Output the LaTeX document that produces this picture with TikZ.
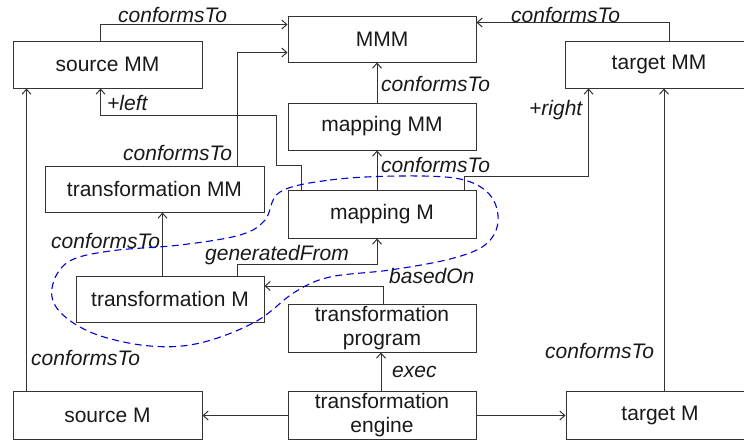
\documentclass[tikz,border=0pt]{standalone}
\usepackage{fontspec}
\setmainfont{Liberation Sans}
\usetikzlibrary{arrows.meta}
\begin{document}
\begin{tikzpicture}[x=1pt,y=-1pt,
  font=\fontsize{21}{24}\selectfont,
  box/.style={draw=black!80, line width=1pt, inner sep=0pt, minimum width=188pt,
              minimum height=47pt, align=center, text=black!90},
  arr/.style={draw=black!80, line width=1pt, -{Straight Barb[length=5pt,width=9pt]}},
  lab/.style={inner sep=0pt, anchor=base west, text=black!90, font=\fontsize{21}{24}\selectfont\itshape},
  group/.style={draw=blue!85!black, line width=1.1pt, dash pattern=on 7pt off 4.5pt}]
\useasboundingbox (0,0) rectangle (744,439);

% metamodel layer
\node[box, minimum width=189pt] (smm) at (107.5,64.5) {source MM};
\node[box, minimum height=46pt] (mmm) at (382,39) {MMM};
\node[box] (tmm) at (659,64.5) {target MM};
\node[box] (mapmm) at (382,126.5) {mapping MM};
\node[box, minimum width=219pt, minimum height=46pt] (trmm) at (154.5,189) {transformation MM};

% model layer
\node[box, minimum height=48pt] (mapm) at (382,214) {mapping M};
\node[box, minimum height=46pt] (trm) at (170,299) {transformation M};
\node[box, minimum height=48pt] (tprog) at (382,328) {transformation\\program};
\node[box, minimum width=189pt, minimum height=48pt] (srcm) at (107.5,415.5) {source M};
\node[box, minimum height=48pt] (teng) at (382,415.5) {transformation\\engine};
\node[box, minimum height=48pt] (tm) at (660,415.5) {target M};

% conformance to the meta-metamodel
\draw[arr] ([xshift=88pt]smm.north west) |- ([yshift=-9pt]mmm.north west);
\draw[arr] ([xshift=105pt]tmm.north west) |- ([yshift=-7pt]mmm.north east);
\draw[arr] ([xshift=193pt]trmm.north west) |- ([yshift=10pt]mmm.south west);
\draw[arr] ([xshift=-5pt]mapmm.north) -- ([xshift=-5pt]mmm.south);
\node[lab] (l1) at (118,23) {conformsTo};
\node[lab] (l2) at (511,22) {conformsTo};
\node[lab] (l3) at (123,160) {conformsTo};
\node[lab] (l4) at (381,91) {conformsTo};

% mapping model
\draw[arr] ([xshift=-5pt]mapm.north) -- ([xshift=-5pt]mapmm.south);
\node[lab] (l5) at (381,172) {conformsTo};
\draw[arr] ([xshift=14pt]mapm.north west) -- ++(0,-24) -- ++(-25,0) -- ++(0,-50)
           -| ([xshift=88pt]smm.south west);
\node[lab] (l6) at (107,110) {+left};
\draw[arr] ([xshift=-12pt]mapm.north east) -- ++(0,-13) -| ([xshift=24pt]tmm.south west);
\node[lab] (l7) at (529,115) {+right};

% transformation model
\draw[arr] ([xshift=87pt]trm.north west) -- ([xshift=87pt]trm.north west |- trmm.south);
\node[lab] (l8) at (51,248) {conformsTo};
\draw[arr] ([xshift=162pt]trm.north west) -- ++(0,-11) -| ([xshift=-5pt]mapm.south);
\node[lab] (l9) at (205,260) {generatedFrom};
\draw[arr] ([xshift=1pt]tprog.north) |- ([yshift=13pt]trm.east);
\node[lab] (l10) at (389,283) {basedOn};

% execution
\draw[arr] ([xshift=-1pt]teng.north) -- ([xshift=-1pt]tprog.south);
\node[lab] (l11) at (392,377) {exec};
\draw[arr] (teng.west) -- (teng.west -| srcm.east);
\draw[arr] (teng.east) -- (teng.east -| tm.west);

% models conform to their metamodels
\draw[arr] ([xshift=14pt]srcm.north west) -- ([xshift=14pt]srcm.north west |- smm.south);
\node[lab] (l12) at (31,365) {conformsTo};
\draw[arr] ([xshift=4pt]tm.north) -- ([xshift=4pt]tm.north |- tmm.south);
\node[lab] (l13) at (545,358) {conformsTo};

% grouping of the generated models
\draw[group] plot[smooth cycle, tension=0.6] coordinates {
  (280,192) (330,180) (400,176) (460,179) (490,195) (498,222) (485,245)
  (450,259) (390,270) (330,277) (295,292) (255,322) (200,343) (150,346)
  (95,334) (60,312) (52,288) (68,262) (110,251) (180,245) (240,235) (265,220)};
\end{tikzpicture}
\end{document}
